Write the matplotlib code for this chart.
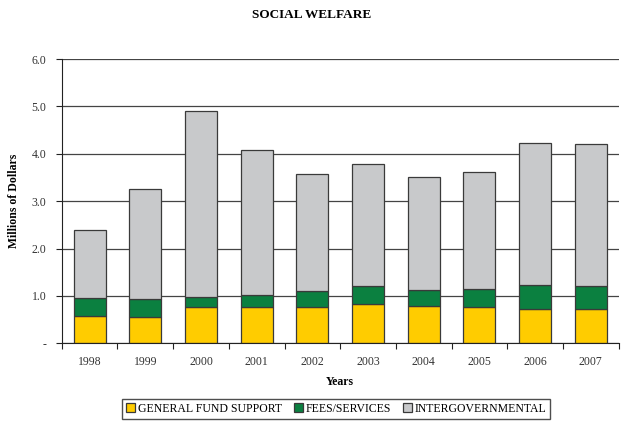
import matplotlib
matplotlib.use("Agg")
import matplotlib.pyplot as plt
import numpy as np
from matplotlib.ticker import FixedLocator

years = ["1998", "1999", "2000", "2001", "2002", "2003", "2004", "2005", "2006", "2007"]
general_fund = [0.58, 0.56, 0.77, 0.76, 0.76, 0.82, 0.78, 0.77, 0.73, 0.73]
fees_services = [0.38, 0.37, 0.20, 0.25, 0.34, 0.38, 0.34, 0.38, 0.51, 0.48]
intergovernmental = [1.43, 2.33, 3.93, 3.08, 2.48, 2.59, 2.39, 2.46, 2.99, 2.99]
y_ticks = [0, 1, 2, 3, 4, 5, 6]
y_tick_labels = ["-", "1.0", "2.0", "3.0", "4.0", "5.0", "6.0"]

plt.rcParams['font.family'] = ['Liberation Serif', 'DejaVu Serif']

fig = plt.figure(figsize=(6.24, 4.23), dpi=100)
ax = fig.add_axes([61.7/624, (423-343.3)/423, (618.7-61.7)/624, (343.3-59)/423])

x = np.arange(len(years))
gf = np.array(general_fund)
fs = np.array(fees_services)
ig = np.array(intergovernmental)
w = 0.575
ec = '#3a3a3a'
ax.bar(x, gf, w, color='#FFCC00', edgecolor=ec, linewidth=0.9, label='GENERAL FUND SUPPORT', zorder=3)
ax.bar(x, fs, w, bottom=gf, color='#0B8040', edgecolor=ec, linewidth=0.9, label='FEES/SERVICES', zorder=3)
ax.bar(x, ig, w, bottom=gf + fs, color='#C8C9CB', edgecolor=ec, linewidth=0.9, label='INTERGOVERNMENTAL', zorder=3)

ax.set_xlim(-0.5, len(years) - 0.5)
ax.set_ylim(0, 6)
ax.set_yticks(y_ticks)
ax.set_yticklabels(y_tick_labels, fontsize=8.5, color='#333333')
ax.xaxis.set_major_locator(FixedLocator(np.arange(len(years) + 1) - 0.5))
ax.xaxis.set_minor_locator(FixedLocator(x))
ax.set_xticklabels([])
ax.set_xticklabels(years, minor=True, fontsize=8.5, color='#333333')
ax.tick_params(axis='x', which='minor', length=0, pad=9)
ax.tick_params(axis='x', which='major', length=4, direction='out', color='#222222')
ax.tick_params(axis='y', length=4, direction='out', color='#222222', pad=7)

ax.grid(axis='y', color='#444444', linewidth=0.9, zorder=0)
ax.set_axisbelow(True)
for s in ['top', 'right']:
    ax.spines[s].set_visible(False)
ax.spines['left'].set_color('#222222')
ax.spines['bottom'].set_color('#222222')
ax.spines['left'].set_zorder(4)
ax.spines['bottom'].set_zorder(4)

ax.set_xlabel('Years', fontsize=8.5, fontweight='bold')
ax.xaxis.set_label_coords(0.5, -(376 - 343.3) / (343.3 - 59))
ax.set_ylabel('Millions of Dollars', fontsize=8.5, fontweight='bold')
ax.yaxis.set_label_coords(-(61.7 - 20) / 557, 0.5)
fig.text(312/624, 1 - 15/423, 'SOCIAL WELFARE', ha='center', va='center', fontsize=9.5, fontweight='bold')

leg = fig.legend(loc='center', bbox_to_anchor=(336/624, 1 - 409/423), ncol=3, frameon=True,
                 fontsize=8.5, handlelength=0.8, handleheight=0.8, handletextpad=0.2,
                 columnspacing=1.0, borderpad=0.35, fancybox=False, edgecolor='#222222')
leg.get_frame().set_linewidth(1.0)

fig.savefig('out.png', dpi=100)
